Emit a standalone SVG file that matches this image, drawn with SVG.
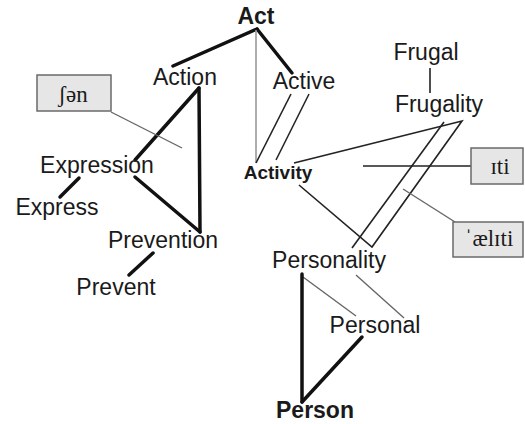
<svg xmlns="http://www.w3.org/2000/svg" width="525" height="424" viewBox="0 0 525 424">
<style>
.w{font-family:"Liberation Sans",Arial,sans-serif;font-size:23px;fill:#1a1a1a;text-anchor:middle}
.b{font-weight:bold}
.ipa{font-family:"Liberation Serif","DejaVu Serif",serif;font-size:23px;fill:#1a1a1a;text-anchor:middle}
.box{fill:#e6e6e6;stroke:#6a6a6a;stroke-width:1.5}
.thick{stroke:#111;stroke-width:3.5;fill:none;stroke-linecap:round}
.thin{stroke:#222;stroke-width:1.6;fill:none}
.gray{stroke:#999;stroke-width:1.6;fill:none}
.dgray{stroke:#666;stroke-width:1.4;fill:none}
</style>
<rect width="525" height="424" fill="#fff"/>
<g id="connectors">
<line class="thick" x1="257" y1="29" x2="173" y2="66"/>
<line class="thick" x1="257" y1="29" x2="292" y2="73"/>
<line class="gray" x1="256" y1="30" x2="256" y2="163"/>
<line class="thin" x1="291" y1="94" x2="256" y2="163"/>
<line class="thin" x1="309" y1="94" x2="276" y2="160"/>
<line class="thick" x1="199" y1="88" x2="135" y2="160"/>
<line class="thick" x1="199" y1="88" x2="200" y2="232"/>
<line class="thick" x1="135" y1="177" x2="200" y2="232"/>
<line class="thick" x1="79" y1="178" x2="60" y2="197"/>
<line class="thick" x1="153" y1="253" x2="129" y2="275"/>
<line class="dgray" x1="111" y1="112" x2="182" y2="148"/>
<line class="thin" x1="430" y1="68" x2="430" y2="93"/>
<polyline class="thin" points="294,163 462,121 372,247 299,185"/>
<line class="thin" x1="444" y1="122" x2="352" y2="248"/>
<line class="thin" x1="363" y1="166" x2="471" y2="166"/>
<line class="dgray" x1="403" y1="189" x2="455" y2="222"/>
<line class="dgray" x1="303" y1="277" x2="356" y2="316"/>
<line class="dgray" x1="356" y1="275" x2="404" y2="318"/>
<line class="thick" x1="302" y1="274" x2="302" y2="402"/>
<line class="thick" x1="302" y1="402" x2="362" y2="337"/>
</g>
<g id="act"><text class="w b" x="256" y="24">Act</text></g>
<g id="action"><text class="w" x="185" y="85">Action</text></g>
<g id="active"><text class="w" x="304" y="89">Active</text></g>
<g id="frugal"><text class="w" x="426" y="60">Frugal</text></g>
<g id="frugality"><text class="w" x="439" y="112">Frugality</text></g>
<g id="expression"><text class="w" x="97" y="173">Expression</text></g>
<g id="express"><text class="w" x="57" y="215">Express</text></g>
<g id="activity"><text class="w b" x="278" y="179" style="font-size:19px">Activity</text></g>
<g id="prevention"><text class="w" x="163" y="248">Prevention</text></g>
<g id="prevent"><text class="w" x="116" y="295">Prevent</text></g>
<g id="personality"><text class="w" x="329" y="268">Personality</text></g>
<g id="personal"><text class="w" x="375" y="333">Personal</text></g>
<g id="person"><text class="w b" x="315" y="418">Person</text></g>
<g id="box-shen"><rect class="box" x="37" y="75" width="74" height="36"/><text class="ipa" x="73" y="102">ʃən</text></g>
<g id="box-iti"><rect class="box" x="471" y="148" width="52" height="36"/><text class="ipa" x="500" y="174">ɪti</text></g>
<g id="box-aeliti"><rect class="box" x="453" y="222" width="70" height="35"/><text class="ipa" x="489" y="246">ˈælɪti</text></g>
</svg>
